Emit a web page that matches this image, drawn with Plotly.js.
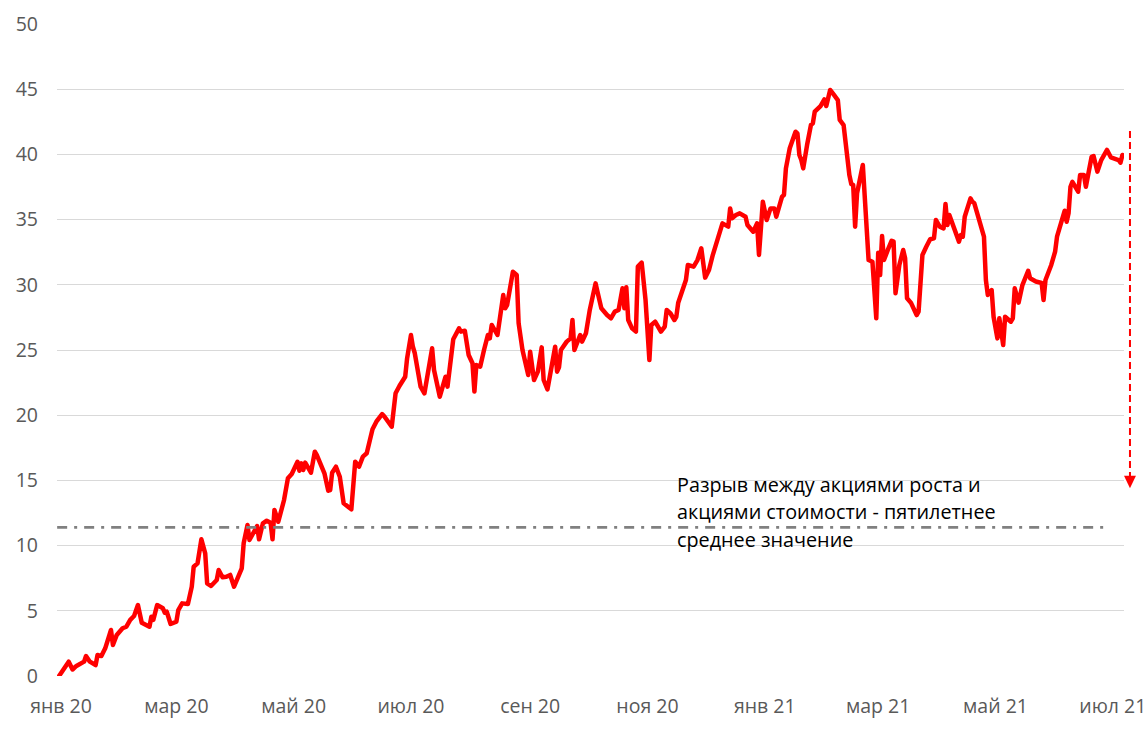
<!DOCTYPE html>
<html>
<head>
<meta charset="utf-8">
<script src="https://cdn.plot.ly/plotly-3.0.1.min.js"></script>
<style>
html, body { margin: 0; padding: 0; background: #fff; }
#chart { width: 1147px; height: 732px; }
.scatterlayer .trace:first-child .js-line { stroke-linejoin: round; stroke-linecap: round; }
</style>
</head>
<body>
<div id="chart"></div>
<script>
// Growth vs value gap (pp)
const dates = [
'2019-12-31','2020-01-05','2020-01-07','2020-01-09','2020-01-13','2020-01-14','2020-01-16','2020-01-19','2020-01-20','2020-01-22',
'2020-01-24','2020-01-25','2020-01-27','2020-01-28','2020-01-30','2020-02-02','2020-02-04','2020-02-06','2020-02-08','2020-02-10',
'2020-02-11','2020-02-12','2020-02-16','2020-02-17','2020-02-18','2020-02-20','2020-02-23','2020-02-24','2020-02-25','2020-02-27',
'2020-03-01','2020-03-02','2020-03-04','2020-03-07','2020-03-09','2020-03-10','2020-03-12','2020-03-14','2020-03-16','2020-03-17',
'2020-03-19','2020-03-22','2020-03-23','2020-03-25','2020-03-27','2020-03-29','2020-03-31','2020-04-04','2020-04-05','2020-04-07',
'2020-04-08','2020-04-10','2020-04-12','2020-04-13','2020-04-15','2020-04-17','2020-04-19','2020-04-20','2020-04-21','2020-04-23',
'2020-04-26','2020-04-28','2020-04-30','2020-05-03','2020-05-04','2020-05-05','2020-05-06','2020-05-07','2020-05-10','2020-05-12',
'2020-05-13','2020-05-17','2020-05-19','2020-05-20','2020-05-21','2020-05-23','2020-05-25','2020-05-27','2020-05-31','2020-06-02',
'2020-06-04','2020-06-06','2020-06-08','2020-06-11','2020-06-13','2020-06-16','2020-06-17','2020-06-21','2020-06-23','2020-06-25',
'2020-06-28','2020-06-29','2020-07-01','2020-07-02','2020-07-03','2020-07-06','2020-07-08','2020-07-12','2020-07-13','2020-07-16',
'2020-07-19','2020-07-20','2020-07-23','2020-07-26','2020-07-27','2020-07-29','2020-07-31','2020-08-02','2020-08-03','2020-08-04',
'2020-08-06','2020-08-08','2020-08-10','2020-08-11','2020-08-12','2020-08-15','2020-08-18','2020-08-19','2020-08-20','2020-08-23',
'2020-08-25','2020-08-26','2020-08-28','2020-08-31','2020-09-01','2020-09-03','2020-09-05','2020-09-07','2020-09-08','2020-09-10',
'2020-09-12','2020-09-14','2020-09-15','2020-09-16','2020-09-17','2020-09-20','2020-09-22','2020-09-23','2020-09-24','2020-09-27',
'2020-09-28','2020-09-30','2020-10-02','2020-10-05','2020-10-06','2020-10-08','2020-10-11','2020-10-13','2020-10-15','2020-10-17',
'2020-10-19','2020-10-20','2020-10-21','2020-10-22','2020-10-24','2020-10-26','2020-10-27','2020-10-29','2020-10-31','2020-11-02',
'2020-11-03','2020-11-05','2020-11-08','2020-11-10','2020-11-11','2020-11-13','2020-11-15','2020-11-16','2020-11-17','2020-11-19',
'2020-11-21','2020-11-22','2020-11-25','2020-11-27','2020-11-29','2020-12-01','2020-12-03','2020-12-05','2020-12-07','2020-12-10',
'2020-12-13','2020-12-14','2020-12-15','2020-12-17','2020-12-19','2020-12-22','2020-12-23','2020-12-26','2020-12-28','2020-12-29',
'2020-12-31','2021-01-02','2021-01-04','2021-01-06','2021-01-07','2021-01-08','2021-01-10','2021-01-11','2021-01-12','2021-01-14',
'2021-01-16','2021-01-17','2021-01-18','2021-01-19','2021-01-20','2021-01-21','2021-01-23','2021-01-25','2021-01-26','2021-01-27',
'2021-01-30','2021-02-01','2021-02-02','2021-02-04','2021-02-06','2021-02-08','2021-02-09','2021-02-11','2021-02-14','2021-02-15',
'2021-02-16','2021-02-17','2021-02-18','2021-02-21','2021-02-22','2021-02-24','2021-02-26','2021-02-28','2021-03-01','2021-03-02',
'2021-03-03','2021-03-04','2021-03-06','2021-03-08','2021-03-09','2021-03-10','2021-03-12','2021-03-14','2021-03-15','2021-03-16',
'2021-03-18','2021-03-21','2021-03-22','2021-03-24','2021-03-26','2021-03-28','2021-03-30','2021-03-31','2021-04-02','2021-04-04',
'2021-04-05','2021-04-06','2021-04-07','2021-04-09','2021-04-12','2021-04-13','2021-04-14','2021-04-15','2021-04-18','2021-04-19',
'2021-04-20','2021-04-25','2021-04-26','2021-04-27','2021-04-29','2021-04-30','2021-05-02','2021-05-03','2021-05-04','2021-05-05',
'2021-05-06','2021-05-09','2021-05-10','2021-05-11','2021-05-13','2021-05-15','2021-05-18','2021-05-19','2021-05-22','2021-05-25',
'2021-05-26','2021-05-27','2021-05-30','2021-06-01','2021-06-02','2021-06-04','2021-06-06','2021-06-07','2021-06-08','2021-06-09',
'2021-06-10','2021-06-12','2021-06-13','2021-06-14','2021-06-16','2021-06-17','2021-06-19','2021-06-20','2021-06-21','2021-06-22',
'2021-06-23','2021-06-25','2021-06-28','2021-06-30','2021-07-04','2021-07-05','2021-07-06'
];
const gapValues = [
0.0,1.1,0.5,0.77,1.1,1.53,1.1,0.84,1.61,1.53,
2.12,2.56,3.53,2.38,3.15,3.66,3.78,4.3,4.6,5.44,
4.81,4.09,3.78,4.55,4.3,5.44,5.19,4.85,4.93,3.99,
4.17,5.06,5.57,5.52,6.85,8.38,8.64,10.48,9.41,7.11,
6.9,7.36,8.13,7.57,7.61,7.75,6.85,8.26,10.18,11.58,
10.43,10.94,11.5,10.48,11.71,11.91,11.76,10.48,12.73,11.83,
13.5,15.16,15.49,16.43,15.74,16.31,15.8,16.36,15.59,17.2,
16.95,15.54,14.21,14.26,15.59,16.05,15.28,13.24,12.78,16.43,
16.05,16.82,17.08,18.92,19.5,20.09,19.94,19.12,21.68,22.24,
22.95,24.36,26.15,25.25,24.75,22.19,21.68,25.13,23.47,21.42,
22.95,22.19,25.82,26.66,26.41,26.48,24.62,23.98,21.81,23.85,
23.72,25.0,26.15,25.89,26.92,26.15,29.22,28.2,28.45,31.0,
30.75,27.05,25.0,23.08,24.87,22.7,23.34,25.2,22.7,21.98,
23.47,25.25,23.34,23.67,25.0,25.64,25.89,27.3,25.0,26.15,
25.64,26.28,28.07,30.11,29.47,28.2,27.68,27.43,27.94,28.07,
29.73,28.2,29.81,27.3,26.66,26.41,31.39,31.7,28.83,24.23,
26.92,27.17,26.41,26.8,28.07,27.8,27.3,27.55,28.63,29.47,
30.37,31.52,31.39,31.9,32.8,30.55,31.13,32.3,33.31,34.71,
34.46,35.86,35.1,35.35,35.48,35.22,34.59,34.07,34.71,32.29,
36.37,34.97,35.86,35.86,35.22,35.86,36.76,36.89,38.93,40.47,
41.36,41.74,41.61,39.95,39.57,38.93,40.72,42.25,42.38,43.28,
43.71,44.22,43.71,44.94,44.56,44.17,42.64,42.25,38.42,37.73,
37.65,34.46,37.02,39.19,36.76,31.9,31.77,27.43,32.46,30.75,
33.74,31.9,32.67,33.38,33.31,29.35,31.52,32.67,32.03,28.96,
28.63,27.68,27.94,32.29,32.92,33.49,33.56,34.97,34.46,34.33,
36.2,34.59,35.35,34.46,33.31,33.82,33.69,35.22,36.63,36.37,
36.25,33.69,30.37,29.22,29.6,27.55,25.89,27.43,26.28,25.38,
27.55,27.17,27.43,29.73,28.63,29.98,31.08,30.5,30.25,30.14,
28.83,30.37,31.52,32.54,33.69,34.59,35.68,34.84,35.48,37.52,
37.9,37.39,37.14,38.42,38.42,37.52,38.8,39.82,39.88,39.06,
38.68,39.57,40.34,39.78,39.57,39.37,39.95
];

// Five-year average gap
const avgDates = ['2019-12-30', '2021-06-27 21:00'];
const avgValues = [11.4, 11.4];

// Arrow (gap to close), from latest level down to the target
const arrowFrom = 41.8;
const arrowTo = 14.4;

const tickDates = ['2020-01-01','2020-03-01','2020-05-01','2020-07-01','2020-09-01','2020-11-01','2021-01-01','2021-03-01','2021-05-01','2021-07-01'];
const tickLabels = ['янв 20','мар 20','май 20','июл 20','сен 20','ноя 20','янв 21','мар 21','май 21','июл 21'];
const yTicks = [0,5,10,15,20,25,30,35,40,45,50];

const noteLines = ['Разрыв между акциями роста и', 'акциями стоимости - пятилетнее', 'среднее значение'];
const noteY = [14.65, 12.58, 10.5];

const traces = [
  {
    x: dates, y: gapValues, type: 'scatter', mode: 'lines',
    line: { color: '#FF0000', width: 4.5 },
    hoverinfo: 'skip', showlegend: false
  },
  {
    x: avgDates, y: avgValues, type: 'scatter', mode: 'lines',
    line: { color: '#808080', width: 2.8, dash: '10px,7px,3px,7px' },
    hoverinfo: 'skip', showlegend: false
  }
];

const arrowX = 1.0056;
const layout = {
  width: 1147, height: 732,
  margin: { l: 57, r: 23, t: 24, b: 56 },
  paper_bgcolor: '#ffffff', plot_bgcolor: '#ffffff',
  font: { family: 'Open Sans, sans-serif', color: '#595959', size: 19 },
  showlegend: false,
  xaxis: {
    type: 'date',
    range: ['2019-12-29 22:00', '2021-07-06 20:00'],
    tickmode: 'array', tickvals: tickDates, ticktext: tickLabels,
    showgrid: false, zeroline: false, showline: false, ticks: '',
    tickfont: { size: 19.5, color: '#595959' },
    ticklabelstandoff: 16
  },
  yaxis: {
    range: [0, 50],
    tickmode: 'array', tickvals: yTicks,
    showgrid: true, gridcolor: '#d9d9d9', gridwidth: 1,
    zeroline: false, showline: false, ticks: '',
    tickfont: { size: 19.5, color: '#595959' },
    ticklabelstandoff: 18
  },
  shapes: [
    {
      type: 'line', xref: 'paper', yref: 'y',
      x0: arrowX, x1: arrowX, y0: arrowFrom, y1: arrowTo + 0.9,
      line: { color: '#FF0000', width: 2, dash: '7px,4px' }
    },
    {
      type: 'path', xref: 'paper', yref: 'y',
      path: 'M ' + (arrowX - 0.0056) + ',' + (arrowTo + 0.95) + ' L ' + (arrowX + 0.0056) + ',' + (arrowTo + 0.95) + ' L ' + arrowX + ',' + arrowTo + ' Z',
      fillcolor: '#FF0000', line: { color: '#FF0000', width: 0 }
    }
  ],
  annotations: noteLines.map((t, i) => ({
    text: t, xref: 'paper', yref: 'y', x: 0.579, y: noteY[i],
    xanchor: 'left', yanchor: 'middle', showarrow: false,
    font: { family: 'Open Sans, sans-serif', size: 19.8, color: '#000000' }
  }))
};

Plotly.newPlot('chart', traces, layout, { staticPlot: true, displayModeBar: false });
</script>
</body>
</html>
